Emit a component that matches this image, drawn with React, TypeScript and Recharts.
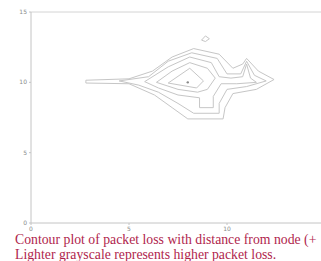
import { ScatterChart, Scatter, XAxis, YAxis, ReferenceLine } from 'recharts';

type Pt = { x: number; y: number };
const pts = (arr: number[][]): Pt[] => arr.map(([x, y]) => ({ x, y }));

const xTicks = [0, 5, 10];
const yTicks = [0, 5, 10, 15];

const nodePos = pts([[8, 10]]);

// contour lines, innermost first
const contourA = pts([[7.0, 9.95], [8.1, 11.0], [8.8, 10.1], [8.45, 9.6], [7.0, 9.95]]);
const contourB = pts([
  [6.4, 10.0], [7.2, 10.8], [8.1, 11.4], [9.0, 11.0], [9.4, 10.3], [9.0, 9.5], [8.5, 9.3], [7.5, 9.5], [6.4, 10.0],
]);
const contourC = pts([
  [5.8, 10.05], [7.0, 11.1], [8.1, 11.8], [9.2, 11.4], [9.6, 10.4], [10.2, 10.3], [10.8, 10.4], [11.0, 11.3],
  [11.2, 10.3], [11.5, 10.0], [10.5, 9.9], [9.7, 9.9], [9.3, 9.0], [9.3, 8.2], [8.6, 8.2], [8.6, 8.9],
  [7.5, 9.1], [6.5, 9.6], [5.8, 10.05],
]);
const contourD = pts([
  [4.5, 10.1], [6.0, 10.4], [7.0, 11.5], [8.2, 12.1], [9.5, 11.7], [10.0, 10.6], [10.7, 10.6], [11.0, 11.5],
  [11.4, 10.5], [12.0, 10.1], [11.0, 9.7], [10.0, 9.5], [9.6, 8.5], [9.6, 7.8], [8.3, 7.8], [7.5, 8.5],
  [6.5, 9.3], [5.5, 9.8], [4.5, 10.1],
]);
const contourE = pts([
  [2.8, 10.15], [5.0, 10.25], [6.2, 10.8], [7.2, 11.8], [8.3, 12.4], [9.6, 12.0], [10.3, 11.0], [10.8, 11.3],
  [11.0, 11.7], [11.6, 10.8], [12.4, 10.2], [11.5, 9.5], [10.3, 9.2], [9.9, 8.2], [9.8, 7.4], [8.0, 7.4],
  [7.2, 8.2], [6.3, 9.1], [5.0, 9.9], [2.8, 9.95], [2.8, 10.15],
]);
const contourTop = pts([[8.7, 13.0], [8.9, 13.3], [9.1, 13.1], [8.9, 12.9], [8.7, 13.0]]);

const contours = [contourA, contourB, contourC, contourD, contourE, contourTop];

const NoDot = () => <g />;

export default function App() {
  return (
    <div style={{ position: 'absolute', left: 0, top: 0, width: 321, height: 261, overflow: 'hidden', background: '#fff' }}>
      <ScatterChart width={330} height={233} margin={{ top: 12, right: 5, bottom: 0, left: 0 }}>
        <XAxis
          type="number"
          dataKey="x"
          domain={[0, 15]}
          ticks={xTicks}
          tickSize={2}
          height={10}
          stroke="#c4c4c4"
          tick={{ fontSize: 6, fill: '#8a8a8a', fontFamily: 'DejaVu Sans' }}
        />
        <YAxis
          type="number"
          dataKey="y"
          domain={[0, 15]}
          ticks={yTicks}
          tickSize={2}
          width={31}
          stroke="#c4c4c4"
          tick={{ fontSize: 6, fill: '#8a8a8a', fontFamily: 'DejaVu Sans' }}
        />
        <ReferenceLine y={15} stroke="#d4d4d4" />
        {contours.map((c, i) => (
          <Scatter
            key={i}
            data={c}
            line={{ stroke: '#c6c6c6', strokeWidth: 1 }}
            lineType="joint"
            shape={NoDot}
            isAnimationActive={false}
          />
        ))}
        <Scatter data={nodePos} fill="#888" shape={(p: any) => <circle cx={p.cx} cy={p.cy} r={1.2} fill="#888" />} isAnimationActive={false} />
      </ScatterChart>
      <div
        style={{
          position: 'absolute',
          left: 15,
          top: 232,
          fontFamily: '"Liberation Serif", serif',
          fontSize: 13.75,
          lineHeight: '15px',
          color: '#b01e4c',
          whiteSpace: 'nowrap',
        }}
      >
        <div>Contour plot of packet loss with distance from node (+</div>
        <div>Lighter grayscale represents higher packet loss.</div>
      </div>
    </div>
  );
}
